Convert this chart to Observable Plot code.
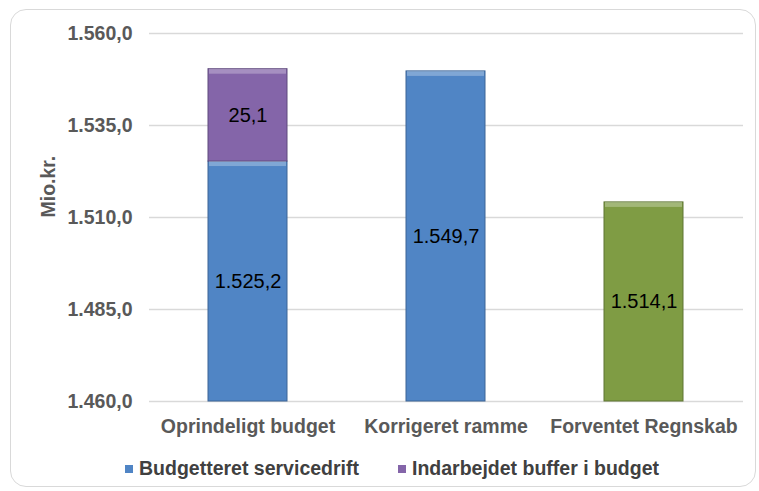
<!DOCTYPE html>
<html>
<head>
<meta charset="utf-8">
<script src="https://cdn.jsdelivr.net/npm/d3@7"></script>
<script src="https://cdn.jsdelivr.net/npm/@observablehq/plot@0.6"></script>
<style>
  html, body { margin: 0; padding: 0; background: #fff; }
  #wrap { position: relative; width: 759px; height: 491px; overflow: hidden; font-family: "Liberation Sans", Arial, sans-serif; }
  #box { position: absolute; left: 10px; top: 9px; width: 746px; height: 478px; border: 1.5px solid #d9d9d9; border-radius: 16px; box-sizing: border-box; }
  #chart { position: absolute; left: 0; top: 0; }
  .leg { position: absolute; top: 456px; font-size: 19.5px; font-weight: bold; color: #404040; white-space: nowrap; line-height: 24px; }
  .sw { display: inline-block; width: 8px; height: 8px; margin-right: 6px; vertical-align: 2px; }
</style>
</head>
<body>
<div id="wrap">
  <div id="box"></div>
  <div id="chart"></div>
  <div id="legend"></div>
</div>
<script>
// Data
const categories = ["Oprindeligt budget", "Korrigeret ramme", "Forventet Regnskab"];
const servicedrift = [1525.2, 1549.7, null];
const buffer = [25.1, null, null];
const regnskab = [null, null, 1514.1];
const yTicks = [1460, 1485, 1510, 1535, 1560];
const seriesNames = ["Budgetteret servicedrift", "Indarbejdet buffer i budget", "Forventet regnskab"];
const seriesColors = ["#5085c5", "#8465a9", "#7f9c44"];
const strokeColors = ["#3c6596", "#5f4a7c", "#5e7432"];
const legendSeries = [0, 1];

const yMin = yTicks[0], yMax = yTicks[yTicks.length - 1];
const loc = d3.formatLocale({decimal: ",", thousands: ".", grouping: [3], currency: ["", ""]});
const fmt = loc.format(",.1f");

// Build segment rows (stacked from axis minimum)
const rows = [];
categories.forEach((c, i) => {
  let base = yMin;
  [[servicedrift, 0], [buffer, 1], [regnskab, 2]].forEach(([arr, s]) => {
    const v = arr[i];
    if (v == null) return;
    const y1 = s === 1 ? base : yMin;
    const y2 = s === 1 ? base + v : v;
    rows.push({cat: c, series: seriesNames[s], si: s, y1, y2, mid: (y1 + y2) / 2, label: fmt(v)});
    base = y2;
  });
});

const chart = Plot.plot({
  width: 759,
  height: 445,
  marginTop: 33,
  marginBottom: 44,
  marginLeft: 149,
  marginRight: 16,
  style: {fontFamily: "'Liberation Sans', Arial, sans-serif", background: "transparent"},
  x: {domain: categories, paddingInner: 0.6, paddingOuter: 0.3, label: null},
  y: {domain: [yMin, yMax], ticks: yTicks, label: null},
  color: {domain: seriesNames, range: seriesColors},
  marks: [
    Plot.ruleY(yTicks, {stroke: "#d9d9d9", strokeWidth: 1.5}),
    Plot.barY(rows, {x: "cat", y1: "y1", y2: "y2", fill: "series", stroke: d => strokeColors[d.si], strokeWidth: 1}),
    // bevel highlight along the top edge of each segment
    Plot.barY(rows, {x: "cat", y1: "y2", y2: "y2", insetBottom: -5, insetLeft: 1, insetRight: 1, fill: "#ffffff", fillOpacity: 0.28}),
    Plot.text(rows, {x: "cat", y: "mid", text: "label", fontSize: 20, fill: "#000"}),
    Plot.axisY({ticks: yTicks, tickSize: 0, tickPadding: 17, tickFormat: fmt, fontSize: 19.5, fontWeight: "bold", fill: "#595959"}),
    Plot.axisX({tickSize: 0, tickPadding: 18, fontSize: 19.5, fontWeight: "bold", fill: "#595959"}),
    Plot.text(["Mio.kr."], {frameAnchor: "left", dx: -101, rotate: -90, fontSize: 19.5, fontWeight: "bold", fill: "#595959"})
  ]
});
document.getElementById("chart").appendChild(chart);

// Legend
const legend = document.getElementById("legend");
const legLeft = [125, 398];
legendSeries.forEach((s, k) => {
  const d = document.createElement("div");
  d.className = "leg";
  d.style.left = legLeft[k] + "px";
  const sw = document.createElement("span");
  sw.className = "sw";
  sw.style.background = seriesColors[s];
  d.appendChild(sw);
  d.appendChild(document.createTextNode(seriesNames[s]));
  legend.appendChild(d);
});
</script>
</body>
</html>
